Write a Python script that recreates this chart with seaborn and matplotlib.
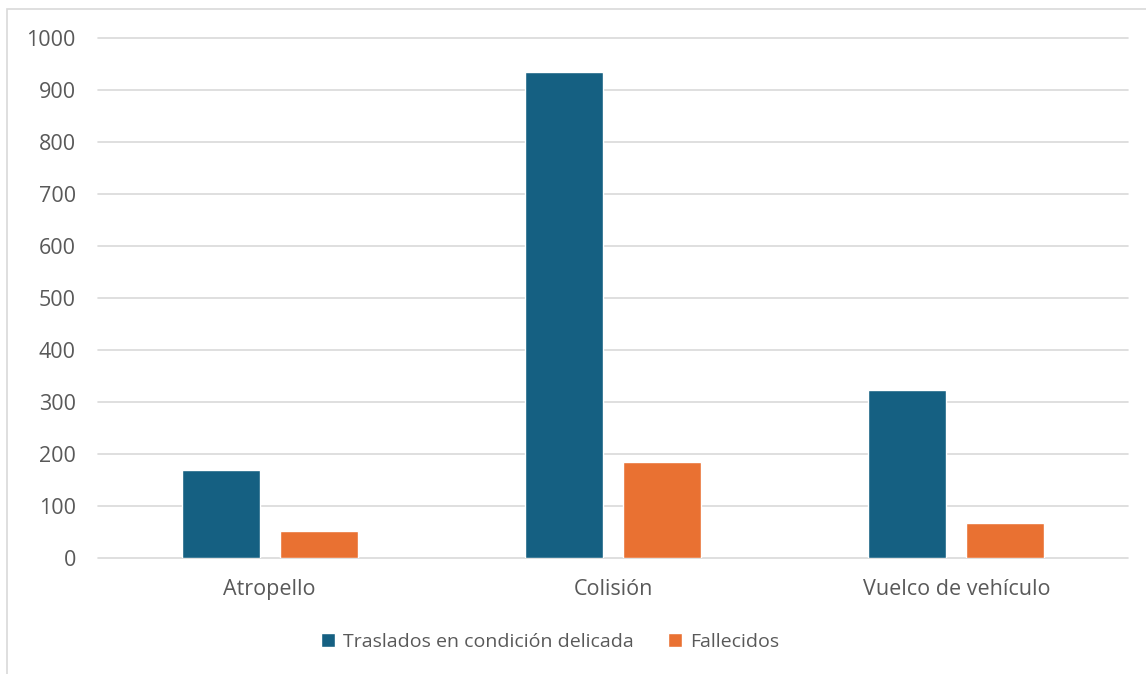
import numpy as np
import pandas as pd
import seaborn as sns
import matplotlib.pyplot as plt
from matplotlib.patches import Rectangle

# Datos del gráfico
categorias = ["Atropello", "Colisión", "Vuelco de vehículo"]
series = ["Traslados en condición delicada", "Fallecidos"]
traslados = [170, 934, 323]
fallecidos = [52, 184, 67]
ticks_y = [0, 100, 200, 300, 400, 500, 600, 700, 800, 900, 1000]

df = pd.DataFrame({
    "tipo": categorias * 2,
    "serie": [series[0]] * 3 + [series[1]] * 3,
    "valor": traslados + fallecidos,
})

sns.set_style("white")
plt.rcParams["font.family"] = ["Open Sans", "DejaVu Sans"]

gris = "#595959"
fig = plt.figure(figsize=(11.46, 6.74), dpi=100)
ax = fig.add_axes([0.0855, 0.1721, 0.8988, 0.7715])

sns.barplot(ax=ax, data=df, x="tipo", y="valor", hue="serie", order=categorias,
            palette=["#156082", "#E97132"], width=0.571, gap=0.205,
            errorbar=None, saturation=1, legend=True)

ax.set_ylim(0, 1000)
ax.set_yticks(ticks_y)
ax.yaxis.grid(True, color="#D9D9D9", linewidth=1.2)
for gl in ax.get_ygridlines():
    gl.set_clip_on(False)
ax.set_axisbelow(True)
for s in ax.spines.values():
    s.set_visible(False)
ax.tick_params(axis="y", length=0, pad=16, labelsize=15.5, labelcolor=gris)
ax.tick_params(axis="x", length=0, pad=15, labelsize=15.5, labelcolor=gris)
ax.set_xlabel("")
ax.set_ylabel("")

# Leyenda abajo
handles, labels = ax.get_legend_handles_labels()
ax.get_legend().remove()
fig.legend(handles, labels, loc="center", bbox_to_anchor=(550 / 1146, 1 - 642 / 674),
           ncol=2, frameon=False, fontsize=14, labelcolor=gris,
           handlelength=0.72, handleheight=0.72, handletextpad=0.4, columnspacing=1.8)

# Borde del área del gráfico
fig.patches.append(Rectangle((7 / 1146, -0.05), 1.1, 1 - 9 / 674 + 0.05,
                             transform=fig.transFigure, fill=False,
                             edgecolor="#D9D9D9", linewidth=1.2))

plt.savefig("out.png", dpi=100)
